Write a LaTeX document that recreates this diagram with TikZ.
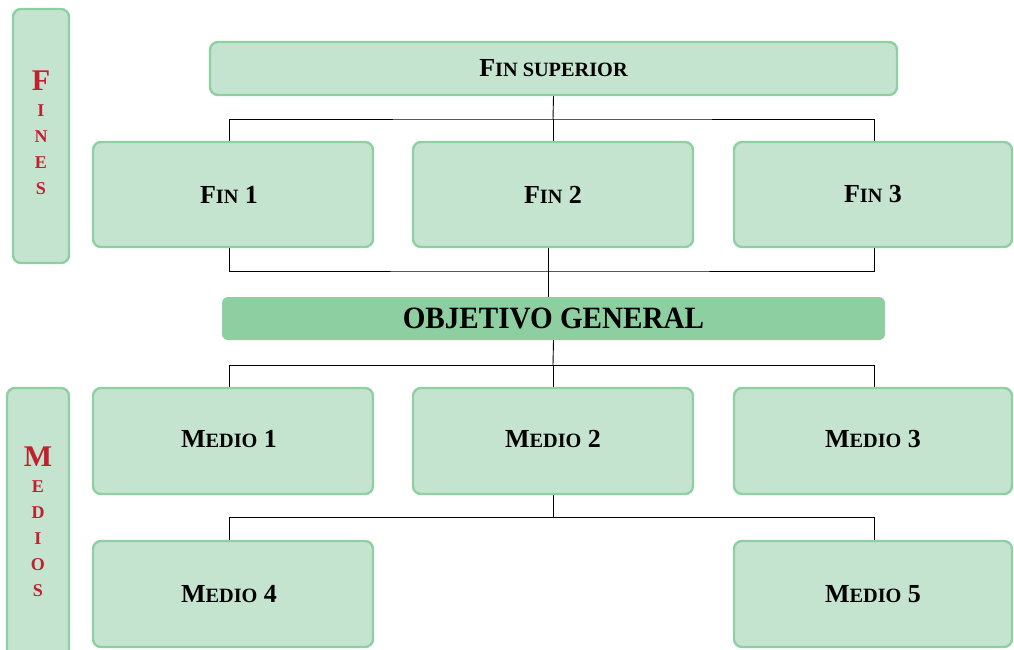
\documentclass[tikz,border=0pt]{standalone}
\usepackage{fontspec}
\setmainfont{Liberation Serif}
\usepackage{graphicx}
\usetikzlibrary{backgrounds}
\definecolor{boxfill}{HTML}{C5E4CF}
\definecolor{boxline}{HTML}{8FD0A3}
\definecolor{objfill}{HTML}{8ECFA2}
\definecolor{sidered}{HTML}{C0202F}
\newcommand{\fsc}[2]{#1{\fontsize{20.3}{20.3}\selectfont #2}}
\begin{document}
\begin{tikzpicture}[x=1pt,y=-1pt,
  box/.style={draw=boxline, line width=2.4pt, fill=boxfill, rounded corners=8pt,
    inner sep=0pt, font=\fontsize{26}{26}\selectfont\bfseries},
  objbox/.style={fill=objfill, rounded corners=6pt, inner sep=0pt,
    font=\fontsize{31}{31}\selectfont\bfseries},
  sidebar/.style={draw=boxline, line width=2.4pt, fill=boxfill, rounded corners=8pt, inner sep=0pt},
  sidetext/.style={text=sidered, align=center, font=\fontsize{18}{26}\selectfont\bfseries, inner sep=0pt},
  conn/.style={draw=black, line width=0.9pt}
]
\useasboundingbox (0,0) rectangle (1014,649);

% side bars
\node[sidebar, minimum width=56pt, minimum height=254pt] (fines) at (41,136) {};
\node[sidetext] (finestxt) at (41,133) {{\fontsize{30}{30}\selectfont F}\\I\\N\\E\\S};
\node[sidebar, minimum width=62pt, minimum height=280pt] (medios) at (38,528) {};
\node[sidetext] (mediostxt) at (38,522) {{\fontsize{30}{30}\selectfont M}\\E\\D\\I\\O\\S};

% top
\node[box, minimum width=687pt, minimum height=53pt] (sup) at (553.5,68.5) {\fsc{F}{IN SUPERIOR}};

\node[box, minimum width=280pt, minimum height=105pt] (f1) at (233,194.5) {\hspace*{-8pt}\fsc{F}{IN} 1};
\node[box, minimum width=280pt, minimum height=105pt] (f2) at (553,194.5) {\fsc{F}{IN} 2};
\node[box, minimum width=278pt, minimum height=105pt] (f3) at (873,194.5) {\fsc{F}{IN} 3};

\node[objbox, minimum width=663pt, minimum height=43pt] (obj) at (553.5,318.5)
  {\scalebox{0.94}[1]{OBJETIVO GENERAL}};

\node[box, minimum width=280pt, minimum height=106pt] (m1) at (233,441) {\raisebox{4pt}{\hspace*{-8pt}\fsc{M}{EDIO} 1}};
\node[box, minimum width=280pt, minimum height=106pt] (m2) at (553,441) {\raisebox{4pt}{\fsc{M}{EDIO} 2}};
\node[box, minimum width=278pt, minimum height=106pt] (m3) at (873,441) {\raisebox{4pt}{\fsc{M}{EDIO} 3}};

\node[box, minimum width=280pt, minimum height=106pt] (m4) at (233,594) {\raisebox{-2pt}{\hspace*{-8pt}\fsc{M}{EDIO} 4}};
\node[box, minimum width=278pt, minimum height=106pt] (m5) at (873,594) {\raisebox{-2pt}{\fsc{M}{EDIO} 5}};

% connectors
\begin{scope}[on background layer]
\coordinate (c1) at (553,119);
\draw[conn] (sup.south) -- (c1);
\draw[conn] (f1.north -| 229,0) |- (c1) -| (f3.north -| 874,0);
\draw[conn] (c1) -- (f2.north);

\coordinate (c2) at (548,271);
\draw[conn] (f1.south -| 229,0) |- (c2) -| (f3.south -| 874,0);
\draw[conn] (f2.south -| 548,0) -- (obj.north -| 548,0);

\coordinate (c3) at (553,365);
\draw[conn] (obj.south) -- (c3);
\draw[conn] (m1.north -| 229,0) |- (c3) -| (m3.north -| 874,0);
\draw[conn] (c3) -- (m2.north);

\coordinate (c4) at (553,517);
\draw[conn] (m2.south) -- (c4);
\draw[conn] (m4.north -| 229,0) |- (c4) -| (m5.north -| 874,0);
\end{scope}
\end{tikzpicture}
\end{document}
